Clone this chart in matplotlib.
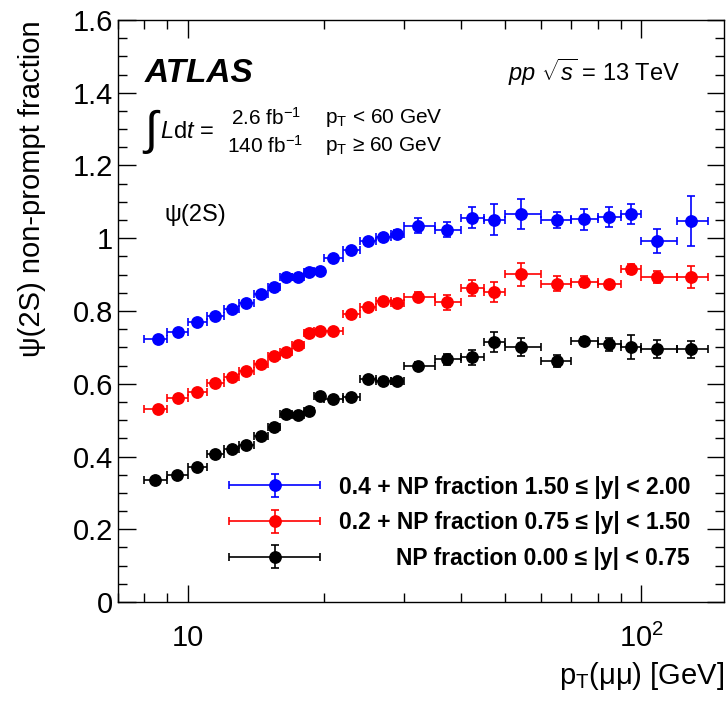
import matplotlib
matplotlib.use("Agg")
import matplotlib.pyplot as plt
import numpy as np
from matplotlib.ticker import LogLocator, NullFormatter, MultipleLocator, FuncFormatter
from matplotlib.legend_handler import HandlerErrorbar
from matplotlib.container import ErrorbarContainer

plt.rcParams['font.family'] = ['Liberation Sans', 'DejaVu Sans']
plt.rcParams['mathtext.fontset'] = 'custom'
plt.rcParams['mathtext.rm'] = 'Liberation Sans'
plt.rcParams['mathtext.it'] = 'Liberation Sans:italic'
plt.rcParams['mathtext.bf'] = 'Liberation Sans:bold'

# pT bin edges [GeV]
edges = [8, 9, 10, 11, 12, 13, 14, 15, 16, 17, 18, 19, 20, 22, 24, 26, 28, 30,
         35, 40, 45, 50, 60, 70, 80, 90, 100, 120, 140]

# mean pT of each bin
pt_fwd = [8.6, 9.52, 10.5, 11.49, 12.5, 13.47, 14.5, 15.47, 16.47, 17.5, 18.5, 19.55,
          20.9, 22.9, 25.0, 26.9, 28.9, 32.2, 37.2, 42.3, 47.2, 54.2, 65.2, 74.6,
          84.7, 94.6, 108.3, 128.7]
pt_cen = [8.47, 9.46, 10.5, 11.49, 12.5, 13.47, 14.5, 15.47, 16.47, 17.5, 18.5, 19.55,
          20.9, 22.9, 25.0, 26.9, 28.9, 32.2, 37.2, 42.3, 47.2, 54.2, 65.2, 74.6,
          84.7, 94.6, 108.3, 128.7]

# 0.4 + NP fraction, 1.50 <= |y| < 2.00
blue_y = [0.723, 0.743, 0.771, 0.787, 0.805, 0.823, 0.847, 0.865, 0.893, 0.893, 0.906, 0.911,
          0.945, 0.967, 0.992, 1.003, 1.013, 1.035, 1.024, 1.057, 1.051, 1.066, 1.050, 1.052,
          1.059, 1.066, 0.992, 1.047]
blue_err = [0.006, 0.006, 0.006, 0.006, 0.006, 0.006, 0.006, 0.007, 0.007, 0.007, 0.008, 0.008,
            0.008, 0.009, 0.009, 0.010, 0.011, 0.020, 0.021, 0.029, 0.042, 0.041, 0.023, 0.029,
            0.028, 0.027, 0.033, 0.069]

# 0.2 + NP fraction, 0.75 <= |y| < 1.50
red_y = [0.531, 0.561, 0.577, 0.602, 0.618, 0.636, 0.655, 0.675, 0.687, 0.707, 0.739, 0.745,
         0.746, 0.793, 0.810, 0.828, 0.822, 0.839, 0.824, 0.863, 0.852, 0.901, 0.875, 0.880,
         0.873, 0.915, 0.894, 0.894]
red_err = [0.006, 0.006, 0.006, 0.006, 0.006, 0.006, 0.006, 0.006, 0.007, 0.007, 0.007, 0.008,
           0.008, 0.008, 0.009, 0.009, 0.010, 0.012, 0.020, 0.023, 0.027, 0.032, 0.020, 0.015,
           0.010, 0.013, 0.017, 0.030]

# NP fraction, 0.00 <= |y| < 0.75
black_y = [0.335, 0.349, 0.372, 0.407, 0.420, 0.432, 0.456, 0.480, 0.517, 0.514, 0.526, 0.565,
           0.559, 0.564, 0.612, 0.608, 0.608, 0.650, 0.667, 0.673, 0.714, 0.701, 0.663, 0.718,
           0.708, 0.700, 0.695, 0.695]
black_err = [0.005, 0.005, 0.005, 0.005, 0.005, 0.005, 0.006, 0.006, 0.006, 0.006, 0.007, 0.007,
             0.007, 0.008, 0.008, 0.008, 0.009, 0.010, 0.015, 0.021, 0.027, 0.025, 0.016, 0.010,
             0.018, 0.033, 0.024, 0.023]

labels = ["0.4 + NP fraction 1.50 \u2264 |y| < 2.00",
          "0.2 + NP fraction 0.75 \u2264 |y| < 1.50",
          "NP fraction 0.00 \u2264 |y| < 0.75"]

W, H = 727, 704
fig = plt.figure(figsize=(W / 100, H / 100), dpi=100)
ax = fig.add_axes([117.5 / W, 1 - 602 / H, (724 - 117.5) / W, (602 - 20) / H])


def px(x, y):
    return x / W, 1 - y / H


lo = np.array(edges[:-1])
hi = np.array(edges[1:])
handles = []
for x, y, e, c in [(pt_fwd, blue_y, blue_err, 'blue'),
                   (pt_fwd, red_y, red_err, 'red'),
                   (pt_cen, black_y, black_err, 'black')]:
    x = np.array(x)
    h = ax.errorbar(x, y, xerr=[x - lo, hi - x], yerr=e, fmt='o', color=c, ms=8.2,
                    elinewidth=1.2, capsize=3, capthick=1.2)
    handles.append(h)

ax.set_xscale('log')
ax.set_xlim(7.0, 152)
ax.set_ylim(0, 1.6)
ax.set_xticks([10, 100])
ax.set_xticklabels(["10", r"10$^{2}$"])
ax.xaxis.set_minor_locator(LogLocator(base=10, subs=np.arange(2, 10)))
ax.xaxis.set_minor_formatter(NullFormatter())
ax.yaxis.set_major_locator(MultipleLocator(0.2))
ax.yaxis.set_minor_locator(MultipleLocator(0.05))
ax.yaxis.set_major_formatter(FuncFormatter(lambda v, p: "%g" % round(v, 2)))
ax.tick_params(which='both', direction='in', top=True, right=True, width=1, labelsize=21)
ax.tick_params(which='major', length=12.6)
ax.tick_params(which='minor', length=6.5)
ax.tick_params(axis='x', pad=16)
ax.tick_params(axis='y', pad=3)
for s in ax.spines.values():
    s.set_linewidth(1)

ax.set_ylabel("\u03c8(2S) non-prompt fraction", fontsize=21, loc='top')
ax.yaxis.set_label_coords(-0.118, 1.0)
ax.set_xlabel("p$_{\\mathrm{T}}$(\u03bc\u03bc) [GeV]", fontsize=21, loc='right')
ax.xaxis.set_label_coords(1.0, -0.1)

fig.text(*px(145, 82), "ATLAS", fontsize=24, weight='bold', style='italic', va='baseline')
fig.text(*px(680, 72), r"$pp$ $\sqrt{s}$ = 13 TeV", fontsize=17, ha='right', va='center')
fig.text(*px(144, 132), "\u222b", fontsize=34, ha='left', va='center')
fig.text(*px(160, 132), r"$L$d$t$ =", fontsize=17, ha='left', va='center')
fig.text(*px(266, 118), r"2.6 fb$^{-1}$", fontsize=15, ha='center', va='center')
fig.text(*px(265, 146), r"140 fb$^{-1}$", fontsize=15, ha='center', va='center')
fig.text(*px(325, 118), r"p$_{\mathrm{T}}$ < 60 GeV", fontsize=15, ha='left', va='center')
fig.text(*px(325, 146), "p$_{\\mathrm{T}}$ \u2265 60 GeV", fontsize=15, ha='left', va='center')
fig.text(*px(165, 215), "\u03c8(2S)", fontsize=17, ha='left', va='center')

leg = ax.legend(handles, labels, loc='center right', bbox_to_anchor=(0.944, 0.1364),
                frameon=False, prop=dict(weight='bold', size=16.5), handlelength=3.97,
                handletextpad=0.8, labelspacing=0.55, borderpad=0, borderaxespad=0,
                handler_map={ErrorbarContainer: HandlerErrorbar(xerr_size=1.99, yerr_size=0.5)})

# right-align the legend texts like ROOT does
fig.canvas.draw()
r = fig.canvas.get_renderer()
widths = [t.get_window_extent(r).width for t in leg.get_texts()]
for t, w in zip(leg.get_texts(), widths):
    t.set_x(max(widths) - w)

fig.savefig("out.png", dpi=100)
